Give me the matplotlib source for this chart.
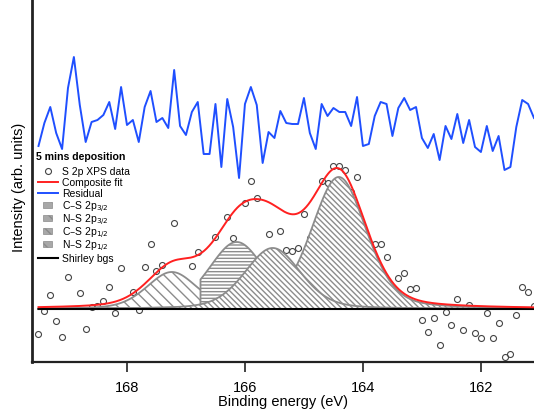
import numpy as np
import matplotlib
matplotlib.use("Agg")
import matplotlib.pyplot as plt
import matplotlib.patches as mpatches
from matplotlib.lines import Line2D

plt.rcParams["font.family"] = ["Liberation Sans", "DejaVu Sans"]
plt.rcParams["hatch.linewidth"] = 1.0

# binding energy grid of the measurement (0.1 eV steps)
energy = np.round(169.5 - 0.1 * np.arange(85), 1)

# S 2p data (arb. units, Shirley background removed)
counts = [
    -25, -2, 14, -12, -28, 32, 64, 16, -20, 2,
    3, 8, 22, -4, 41, 6, 17, -1, 42, 65,
    38, 44, 27, 86, 24, 17, 43, 57, 17, 25,
    72, 41, 92, 71, 51, 106, 128, 111, 47, 75,
    57, 78, 59, 58, 61, 95, 71, 73, 128, 126,
    143, 143, 139, 117, 132, 71, 43, 65, 65, 52,
    11, 31, 36, 20, 21, -11, -23, -9, -36, -3,
    -16, 10, -21, 4, -24, -29, -4, -29, -14, -48,
    -45, -6, 22, 17, 3,
]

# residual (data - fit), drawn shifted up
residual = [
    -26, -3, 13, -13, -29, 32, 63, 15, -22, -2,
    0, 5, 18, -9, 33, -5, 0, -22, 13, 29,
    -2, 2, -8, 50, -6, -15, 8, 18, -34, -34,
    16, -47, 21, -7, -58, 16, 33, 15, -43, -12,
    -18, 9, -3, -4, -4, 22, -13, -29, 16, 4,
    12, 8, 8, -6, 23, -26, -24, 4, 18, 16,
    -16, 12, 22, 10, 13, -18, -28, -14, -40, -6,
    -19, 6, -23, 0, -27, -32, -6, -31, -16, -50,
    -47, -7, 20, 16, 2,
]
residual_offset = 189

# fitted components (pseudo-Voigt)
comp_names = ["C–S 2p$_{3/2}$", "N–S 2p$_{3/2}$", "C–S 2p$_{1/2}$", "N–S 2p$_{1/2}$"]
comp_center = [164.41, 166.14, 165.53, 167.24]
comp_height = [132, 67, 61, 37]
comp_fwhm = [1.10, 1.12, 1.12, 1.00]
comp_cut = [None, 166.76, None, None]   # upper energy limit of drawn component
comp_hatch = ["\\" * 6, "-" * 5, "\\" * 6, "\\" * 3]
draw_order = [3, 0, 1, 2]
gl_mix = 0.3


def pseudo_voigt(x, c, h, w, eta=gl_mix):
    g = np.exp(-4 * np.log(2) * ((x - c) / w) ** 2)
    l = 1.0 / (1 + 4 * ((x - c) / w) ** 2)
    return h * ((1 - eta) * g + eta * l)


x_fit = np.linspace(energy[0], energy[-1], 1200)
comps = [pseudo_voigt(x_fit, c, h, w) for c, h, w in zip(comp_center, comp_height, comp_fwhm)]
composite = np.sum(comps, axis=0)

W, H = 534, 412
fig = plt.figure(figsize=(W / 100, H / 100), dpi=100)
ax = fig.add_axes([32 / W, 50 / H, 502 / W, 362 / H])

ax.plot(energy, counts, "o", ms=4.3, mfc="none", mec="#444444", mew=0.8, zorder=1)

grey = "#8c8c8c"
for z, i in enumerate(draw_order):
    y = comps[i].copy()
    if comp_cut[i] is not None:
        y[x_fit > comp_cut[i]] = np.nan
    ok = ~np.isnan(y)
    ax.fill_between(x_fit[ok], 0, y[ok], facecolor="white", edgecolor=grey,
                    hatch=comp_hatch[i], linewidth=1.3, zorder=2 + z)

ax.plot(x_fit, np.zeros_like(x_fit), color="black", lw=1.5, zorder=7)
ax.plot(x_fit, composite, color="#ff2020", lw=1.4, zorder=8)
ax.plot(energy, np.array(residual) + residual_offset, color="#1f4fff", lw=1.4, zorder=8)

ax.set_xlim(169.61, 161.10)
ax.set_ylim(-53, 309)
ax.set_xticks([168, 166, 164, 162])
ax.set_yticks([])
ax.tick_params(axis="x", direction="out", length=7, width=1.2, labelsize=10.5, pad=6.5,
               color="#222222")
for side in ["top", "right"]:
    ax.spines[side].set_visible(False)
ax.spines["left"].set_linewidth(2.0)
ax.spines["bottom"].set_linewidth(1.6)
for side in ["left", "bottom"]:
    ax.spines[side].set_color("#222222")

ax.set_xlabel("Binding energy (eV)", fontsize=10.5, labelpad=0)
ax.set_ylabel("Intensity (arb. units)", fontsize=10.5)
ax.yaxis.set_label_coords(-0.012, 0.483)

# legend, laid out by hand (pixel positions from the top-left of the figure)
tf = fig.transFigure


def fx(px):
    return px / W


def fy(py):
    return 1 - py / H


ax.add_patch(mpatches.Rectangle((fx(34), fy(265)), fx(98), 114 / H, transform=tf,
                                facecolor="white", edgecolor="none", zorder=6))
ax.text(fx(36), fy(160.5), "5 mins deposition", transform=tf, fontsize=7.6,
        fontweight="bold", va="baseline", ha="left", zorder=9)

labels = ["S 2p XPS data", "Composite fit", "Residual"] + comp_names + ["Shirley bgs"]
rows = [171, 182, 193, 205, 218, 231, 244, 258]
hx0, hx1, hxc, tx = 38, 58, 47.7, 62
for k, (lab, ry) in enumerate(zip(labels, rows)):
    if k == 0:
        ax.add_line(Line2D([fx(hxc)], [fy(ry)], transform=tf, ls="none", marker="o", ms=4.3,
                           mfc="none", mec="#444444", mew=0.8, zorder=9))
    elif k in (1, 2, 7):
        col = {1: "#ff2020", 2: "#1f4fff", 7: "black"}[k]
        ax.add_line(Line2D([fx(hx0), fx(hx1)], [fy(ry), fy(ry)], transform=tf, color=col,
                           lw=1.5 if k == 7 else 1.4, zorder=9))
    else:
        ax.add_patch(mpatches.Rectangle((fx(hxc - 4.5), fy(ry + 3)), fx(9), 6 / H, transform=tf,
                                        facecolor="#a8a8a8", edgecolor="#8a8a8a", hatch="\\\\",
                                        lw=0.5, zorder=9))
    drop = 1.5 if 3 <= k <= 6 else 0
    ax.text(fx(tx), fy(ry + 3.7 + drop), lab, transform=tf, fontsize=7.5, va="baseline",
            ha="left", zorder=9)

fig.savefig("out.png", dpi=100)
